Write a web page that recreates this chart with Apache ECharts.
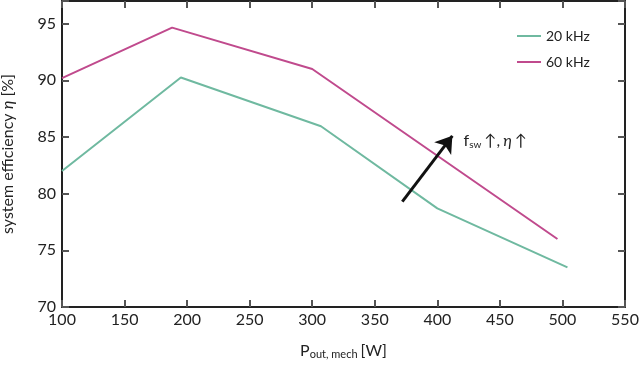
<!DOCTYPE html>
<html><head><meta charset="utf-8">
<script src="https://cdn.jsdelivr.net/npm/echarts@6/dist/echarts.min.js"></script>
<style>html,body{margin:0;padding:0;background:#fff}#c{width:639px;height:368px}</style>
</head><body><div id="c"></div>
<script>
const power20 = [100, 195, 307, 400, 504];
const eff20 = [82.0, 90.25, 85.95, 78.7, 73.5];
const power60 = [100, 188, 300, 496];
const eff60 = [90.2, 94.65, 91.0, 76.0];
const seriesNames = ['20 kHz', '60 kHz'];
const arrowFrom = [372, 79.3];
const arrowTo = [412, 85.1];
const notePos = [421, 84.7];
const xTicks = [100, 150, 200, 250, 300, 350, 400, 450, 500, 550];
const yTicks = [70, 75, 80, 85, 90, 95];

const FONT = 'Lato';
const axisCol = '#222';
const tickCol = '#555555';
const chart = echarts.init(document.getElementById('c'), null, {renderer: 'canvas'});
const pair = (xs, ys) => xs.map((x, i) => [x, ys[i]]);
chart.setOption({
  animation: false,
  textStyle: {fontFamily: FONT},
  grid: {left: 62, right: 14, top: 1, bottom: 61, outerBoundsMode: 'none', containLabel: false},
  legend: {
    orient: 'vertical', left: 512, top: 24, itemGap: 12, itemWidth: 24, itemHeight: 10,
    icon: 'path://M0,4 L24,4 L24,6 L0,6 Z',
    textStyle: {fontFamily: FONT, fontSize: 14, color: '#222'},
    data: seriesNames
  },
  xAxis: [{
    type: 'value', min: 100, max: 550, interval: 50, position: 'bottom',
    axisLine: {show: true, lineStyle: {color: axisCol, width: 2}},
    axisTick: {show: true, inside: true, length: 7, lineStyle: {color: tickCol, width: 2}},
    splitLine: {show: false},
    axisLabel: {fontSize: 16, color: '#222', margin: 5, fontFamily: FONT},
    name: '{n|P}{s|out, mech} {n|[W]}', nameLocation: 'middle', nameGap: 34,
    nameTextStyle: {rich: {n: {fontSize: 16, color: '#222', fontFamily: FONT},
      s: {fontSize: 11, color: '#222', fontFamily: FONT, verticalAlign: 'bottom', padding: [8, 0, 0, 0]}}}
  }, {
    type: 'value', min: 100, max: 550, interval: 50, position: 'top',
    axisLine: {show: true, lineStyle: {color: axisCol, width: 2}},
    axisTick: {show: true, inside: true, length: 7, lineStyle: {color: tickCol, width: 2}},
    axisLabel: {show: false}, splitLine: {show: false}
  }],
  yAxis: [{
    type: 'value', min: 70, max: 97, interval: 5,
    axisLine: {show: true, lineStyle: {color: axisCol, width: 2}},
    axisTick: {show: true, inside: true, length: 7, lineStyle: {color: tickCol, width: 2}},
    splitLine: {show: false},
    axisLabel: {fontSize: 16, color: '#222', margin: 6, fontFamily: FONT, customValues: yTicks},
    name: 'system efficiency {i|η} [%]', nameLocation: 'middle', nameGap: 46, nameRotate: 90,
    nameTextStyle: {fontSize: 16, color: '#222', fontFamily: FONT,
      rich: {i: {fontSize: 16, fontStyle: 'italic', color: '#222', fontFamily: FONT}}}
  }, {
    type: 'value', min: 70, max: 97, interval: 5, position: 'right',
    axisLine: {show: true, lineStyle: {color: axisCol, width: 2}},
    axisTick: {show: true, inside: true, length: 7, lineStyle: {color: tickCol, width: 2}},
    axisLabel: {show: false}, splitLine: {show: false}
  }],
  series: [{
    name: seriesNames[0], type: 'line', data: pair(power20, eff20), showSymbol: false,
    itemStyle: {color: '#6fb9a0'}, lineStyle: {color: '#6fb9a0', width: 2}
  }, {
    name: seriesNames[1], type: 'line', data: pair(power60, eff60), showSymbol: false,
    itemStyle: {color: '#c04a8d'}, lineStyle: {color: '#c04a8d', width: 2},
    markLine: {
      silent: true, symbol: ['none', 'arrow'], symbolSize: 16,
      lineStyle: {color: '#111', width: 3, type: 'solid'}, label: {show: false},
      data: [[{coord: arrowFrom}, {coord: arrowTo}]]
    },
    markPoint: {
      silent: true, symbol: 'circle', symbolSize: 0,
      label: {show: true, position: 'right', distance: 0,
        formatter: '{n|f}{s|sw} {n|↑,} {i|η} {n|↑}',
        rich: {n: {fontSize: 16, color: '#222', fontFamily: FONT},
          i: {fontSize: 16, fontStyle: 'italic', color: '#222', fontFamily: FONT},
          s: {fontSize: 10, color: '#222', fontFamily: FONT, padding: [8, 0, 0, 0]}}},
      data: [{coord: notePos}]
    }
  }]
});
</script></body></html>
